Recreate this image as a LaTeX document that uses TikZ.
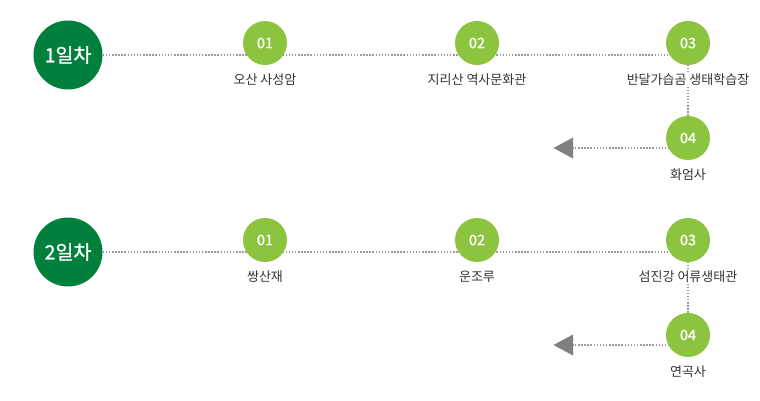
\documentclass[tikz,border=0pt]{standalone}
\usepackage{fontspec}
\setmainfont{Noto Sans CJK KR}
\newfontfamily\medfont[FakeBold=1.0]{Noto Sans CJK KR}
\usetikzlibrary{backgrounds}
\definecolor{dgreen}{HTML}{00803C}
\definecolor{lgreen}{HTML}{8CC43F}
\definecolor{dotgray}{HTML}{9A9A9A}
\definecolor{arrgray}{HTML}{808080}
\definecolor{txt}{HTML}{333333}
\begin{document}
\begin{tikzpicture}[x=1pt,y=-1pt,
  daybox/.style={circle,fill=dgreen,minimum size=69pt,inner sep=0pt,text=white,font=\medfont\fontsize{19.5}{19.5}\selectfont},
  stopbox/.style={circle,fill=lgreen,minimum size=44pt,inner sep=0pt,text=white,font=\medfont\fontsize{14.5}{14.5}\selectfont},
  lbl/.style={fill=white,inner sep=1pt,text=txt,font=\fontsize{13}{13}\selectfont},
  dline/.style={dotgray,line width=1.6pt,dash pattern=on 1.5pt off 1.6pt}]
\useasboundingbox (0,0) rectangle (760,400);
\foreach \r/\oy/\d/\la/\lb/\lc/\ld in {1/0/1일차/오산 사성암/지리산 역사문화관/반달가습곰 생태학습장/화엄사,
                                      2/197/2일차/쌍산재/운조루/섬진강 어류생태관/연곡사}{
  \node[daybox] (d\r) at (68,55+\oy) {\d};
  \node[stopbox] (s\r a) at (265,43+\oy) {01};
  \node[stopbox] (s\r b) at (477,43+\oy) {02};
  \node[stopbox] (s\r c) at (688,43+\oy) {03};
  \node[stopbox] (s\r d) at (688,138+\oy) {04};
  \node[lbl] (l\r a) at (265,80+\oy) {\la};
  \node[lbl] (l\r b) at (477,80+\oy) {\lb};
  \node[lbl] (l\r c) at (688,80+\oy) {\lc};
  \node[lbl] (l\r d) at (688,175+\oy) {\ld};
  \coordinate (e\r) at (688,55+\oy);
  \coordinate (f\r) at (688,148+\oy);
  \coordinate (a\r) at (573,148+\oy);
  \begin{pgfonlayer}{background}
    \draw[dline] (d\r.east) -- (e\r);
    \draw[dline] (s\r c.center) -- (s\r d.center);
    \draw[dline] (f\r) -- (a\r);
    \fill[arrgray] (a\r) ++(0,-10.5) -- ++(-19.5,10.5) -- ++(19.5,10.5) -- cycle;
  \end{pgfonlayer}
}
\end{tikzpicture}
\end{document}
